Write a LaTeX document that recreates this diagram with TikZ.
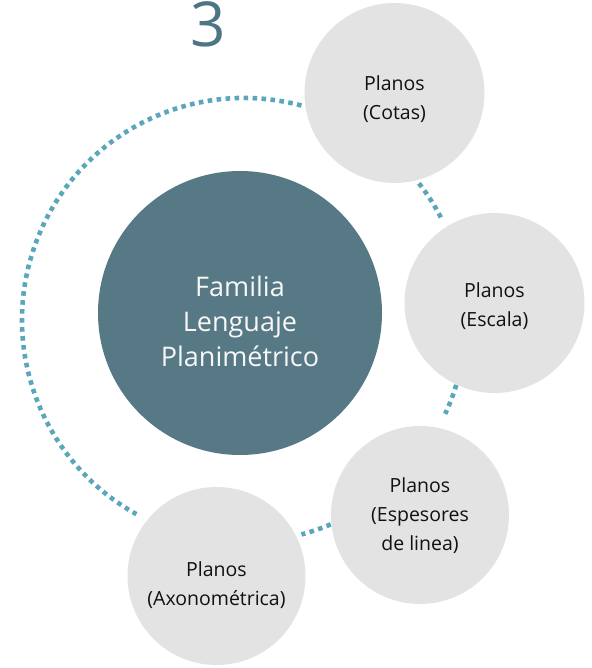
\documentclass[tikz,border=0pt]{standalone}
\usepackage{fontspec}
\setmainfont{Open Sans}
\definecolor{slate}{HTML}{577985}
\definecolor{lgray}{HTML}{E3E3E3}
\definecolor{dotc}{HTML}{5AA7BC}
\definecolor{numc}{HTML}{4E7584}
\definecolor{leaftext}{HTML}{111111}
\tikzset{
  dotline/.style={draw=dotc, line width=4.6pt, dash pattern=on 4.6pt off 4.4pt},
  leaf/.style={circle, fill=lgray, minimum size=#1, inner sep=0pt},
  leaftxt/.style={align=center, inner sep=0pt, font=\fontsize{19.5}{29}\selectfont, text=leaftext},
  hub/.style={circle, fill=slate, minimum size=284pt, inner sep=0pt},
  hubtxt/.style={align=center, inner sep=0pt, font=\fontsize{27}{35}\selectfont, text=white!97!black},
  numstyle/.style={font=\fontsize{62}{62}\selectfont, text=numc, anchor=base, inner sep=0pt,
    text height=44pt, text depth=0pt}
}
\begin{document}
\begin{tikzpicture}[x=1pt,y=1pt]
\useasboundingbox (0,0) rectangle (591,668);
\coordinate (o) at (244,348);
% dotted ring segments
\draw[dotline] (o) ++(75:222) arc[start angle=75, end angle=241, radius=222pt];
\draw[dotline] (o) ++(38:222) arc[start angle=38, end angle=27, radius=222pt];
\draw[dotline] (o) ++(-17:222) arc[start angle=-17, end angle=-25, radius=222pt];
\draw[dotline] (o) ++(-67:222) arc[start angle=-67, end angle=-75, radius=222pt];
% hub
\node[hub] (hub) at (240,355) {};
\node[hubtxt] (hubt) at ([yshift=-8pt]hub.center) {Familia\\Lenguaje\\Planimétrico};
% leaves
\node[leaf=180pt] (cotas) at (394.5,575) {};
\node[leaftxt] (cotast) at ([yshift=-6pt]cotas.center) {Planos\\(Cotas)};
\node[leaf=180pt] (escala) at (494.5,365) {};
\node[leaftxt] (escalat) at ([yshift=-3pt]escala.center) {Planos\\(Escala)};
\node[leaf=178pt] (espesores) at (420,153) {};
\node[leaftxt] (espesorest) at ([yshift=-1pt]espesores.center) {Planos\\(Espesores\\de linea)};
\node[leaf=178pt] (axono) at (216.5,92) {};
\node[leaftxt] (axonot) at ([yshift=-9pt]axono.center) {Planos\\(Axonométrica)};
% number
\node[numstyle] (num) at (208,621) {3};
\end{tikzpicture}
\end{document}
